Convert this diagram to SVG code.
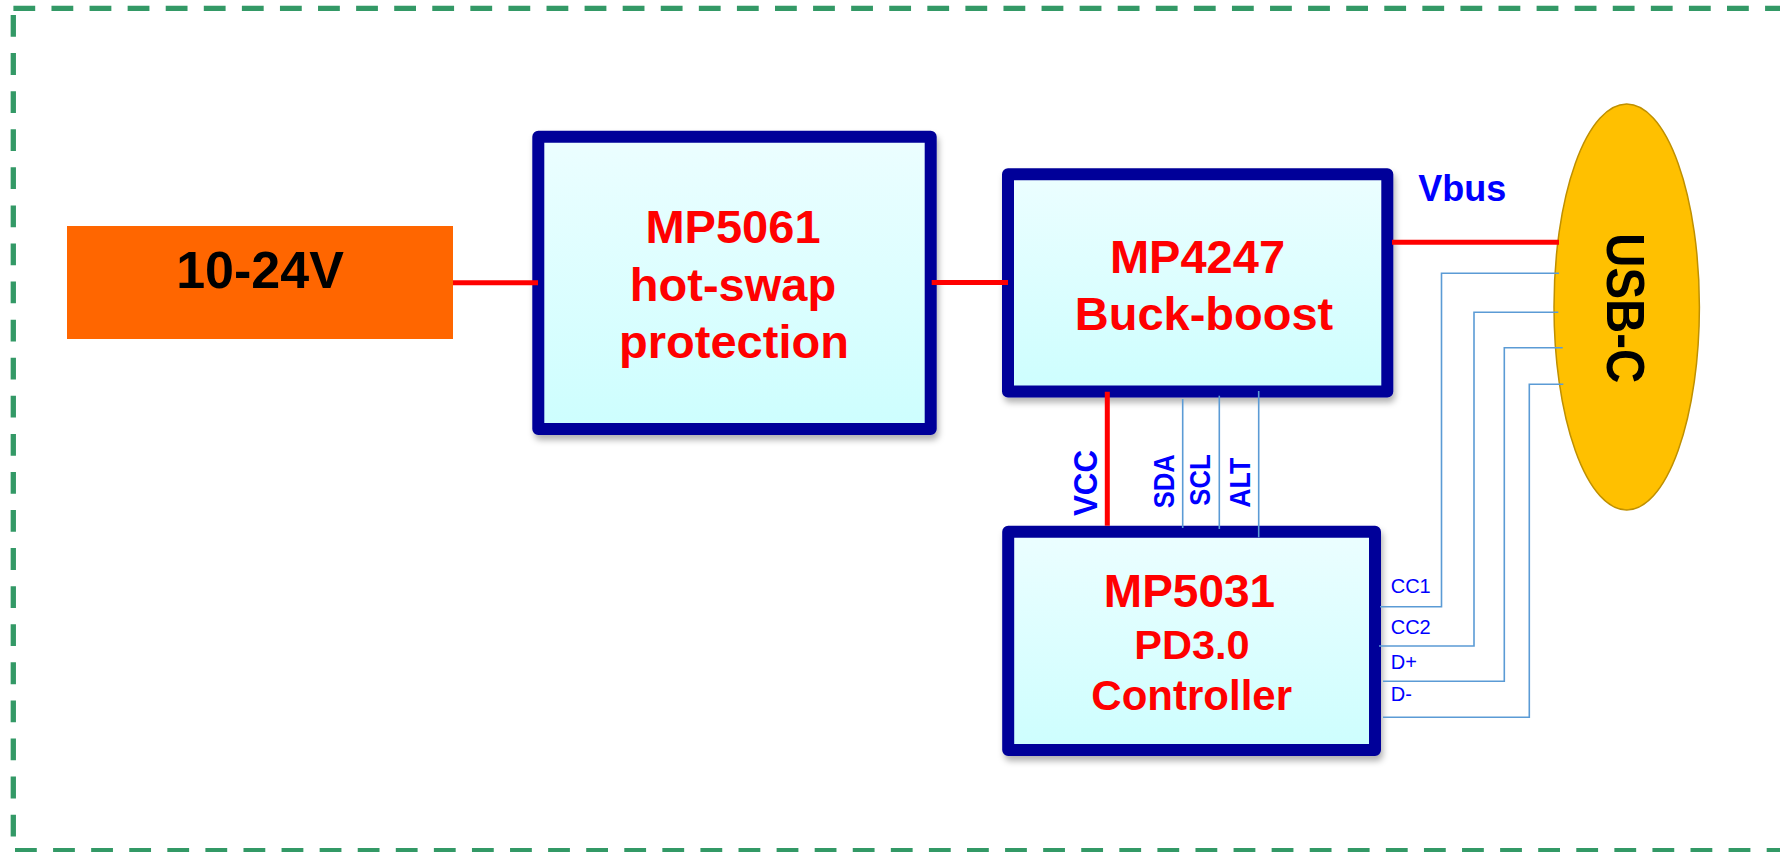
<svg xmlns="http://www.w3.org/2000/svg" width="1780" height="852" viewBox="0 0 1780 852">
  <defs>
    <linearGradient id="blockFill" x1="0" y1="0" x2="0" y2="1">
      <stop offset="0" stop-color="#ECFEFF"/>
      <stop offset="1" stop-color="#CDFEFE"/>
    </linearGradient>
    <filter id="shadow" x="-10%" y="-10%" width="120%" height="125%">
      <feDropShadow dx="2" dy="5" stdDeviation="3" flood-color="#000" flood-opacity="0.3"/>
    </filter>
    <style>
      .border { fill: none; stroke: #339966; stroke-width: 5.3; stroke-dasharray: 21.8 16.28; }
      .block { fill: url(#blockFill); stroke: #000099; stroke-width: 12; stroke-linejoin: round; filter: url(#shadow); }
      .btext { font-family: "Liberation Sans", Arial, sans-serif; font-weight: bold; fill: #FF0000; text-anchor: middle; }
      .power { fill: none; stroke: #FF0000; stroke-width: 5; }
      .sig { fill: none; stroke: #5B9BD5; stroke-width: 1.6; }
      .lbl { font-family: "Liberation Sans", Arial, sans-serif; font-weight: bold; fill: #0000FF; }
      .pin { font-family: "Liberation Sans", Arial, sans-serif; fill: #0000FF; font-size: 20px; }
    </style>
  </defs>

  <g id="frame">
    <line class="border" x1="13.4" y1="8.3" x2="1790" y2="8.3"/>
    <line class="border" x1="13.3" y1="15" x2="13.3" y2="852"/>
    <line class="border" x1="15" y1="850.6" x2="1790" y2="850.6"/>
  </g>

  <g id="source">
    <rect x="67" y="226" width="386" height="113" fill="#FF6600"/>
    <text x="260" y="288" font-family="Liberation Sans, Arial, sans-serif" font-weight="bold" font-size="52" fill="#000000" text-anchor="middle">10-24V</text>
  </g>

  <g id="mp5061">
    <rect class="block" x="538.3" y="136.7" width="392.4" height="292.3"/>
    <text class="btext" font-size="47" x="733" y="242.7">MP5061</text>
    <text class="btext" font-size="47" x="733" y="301">hot-swap</text>
    <text class="btext" font-size="47" x="734" y="358">protection</text>
  </g>

  <g id="mp4247">
    <rect class="block" x="1008" y="174.2" width="379.3" height="217.3"/>
    <text class="btext" font-size="47" x="1197.5" y="273.3">MP4247</text>
    <text class="btext" font-size="47" x="1204" y="330">Buck-boost</text>
  </g>

  <g id="mp5031">
    <rect class="block" x="1008.2" y="531.7" width="366.8" height="218.3"/>
    <text class="btext" font-size="46" x="1189.5" y="606.7">MP5031</text>
    <text class="btext" font-size="41.5" x="1192" y="659.3">PD3.0</text>
    <text class="btext" font-size="42" x="1191.7" y="710">Controller</text>
  </g>

  <g id="usbc">
    <ellipse cx="1626.7" cy="307" rx="72.7" ry="203" fill="#FFC000" stroke="#BF9000" stroke-width="1.5"/>
    <text transform="translate(1606.7,233.3) rotate(90)" font-family="Liberation Sans, Arial, sans-serif" font-weight="bold" font-size="53" fill="#000000" textLength="150" lengthAdjust="spacingAndGlyphs">USB-C</text>
  </g>

  <g id="connectors">
    <line class="power" x1="453" y1="282.7" x2="538" y2="282.7"/>
    <line class="power" x1="931.7" y1="282.5" x2="1008" y2="282.5"/>
    <line class="power" x1="1392" y1="242.2" x2="1559" y2="242.2"/>
    <line class="power" x1="1107.3" y1="391.7" x2="1107.3" y2="525.7"/>
    <line class="sig" x1="1182.7" y1="399" x2="1182.7" y2="528"/>
    <line class="sig" x1="1219.3" y1="395.7" x2="1219.3" y2="529"/>
    <line class="sig" x1="1258.7" y1="391" x2="1258.7" y2="537.3"/>
    <polyline class="sig" points="1380,606.7 1441.5,606.7 1441.5,273.3 1559,273.3"/>
    <polyline class="sig" points="1379,646 1474,646 1474,312.3 1558.3,312.3"/>
    <polyline class="sig" points="1383,681.2 1504.3,681.2 1504.3,347.7 1562.7,347.7"/>
    <polyline class="sig" points="1383,717.3 1529.3,717.3 1529.3,384.3 1563.3,384.3"/>
    <text class="lbl" x="1418.3" y="201" font-size="36">Vbus</text>
    <text class="lbl" transform="translate(1096.7,516) rotate(-90)" font-size="34" textLength="66" lengthAdjust="spacingAndGlyphs">VCC</text>
    <text class="lbl" transform="translate(1174,508.3) rotate(-90)" font-size="29" textLength="54" lengthAdjust="spacingAndGlyphs">SDA</text>
    <text class="lbl" transform="translate(1210,505.7) rotate(-90)" font-size="29" textLength="51.4" lengthAdjust="spacingAndGlyphs">SCL</text>
    <text class="lbl" transform="translate(1250,507.7) rotate(-90)" font-size="29" textLength="50" lengthAdjust="spacingAndGlyphs">ALT</text>
    <text class="pin" x="1390.7" y="592.7">CC1</text>
    <text class="pin" x="1390.7" y="634">CC2</text>
    <text class="pin" x="1390.7" y="669.3">D+</text>
    <text class="pin" x="1390.7" y="700.7">D-</text>
  </g>
</svg>
